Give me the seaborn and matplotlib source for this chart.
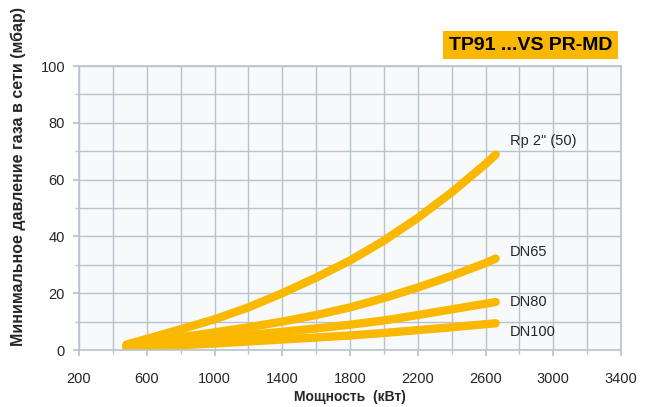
import numpy as np
import pandas as pd
import matplotlib
matplotlib.use("Agg")
import matplotlib.pyplot as plt
import seaborn as sns
from matplotlib.ticker import MultipleLocator

# values
power_kw = [480, 600, 800, 1000, 1200, 1400, 1600, 1800, 2000, 2200, 2400, 2600, 2660]
rp2_50 = [1.9, 3.9, 7.3, 10.8, 15.0, 20.0, 25.5, 31.5, 38.5, 46.5, 55.5, 65.5, 68.8]
dn65 = [1.5, 2.9, 4.5, 6.2, 8.0, 10.0, 12.3, 15.0, 18.3, 22.0, 26.1, 30.6, 32.2]
dn80 = [1.3, 2.2, 3.2, 4.2, 5.3, 6.4, 7.6, 8.9, 10.4, 12.3, 14.3, 16.3, 16.9]
dn100 = [0.9, 1.2, 1.7, 2.3, 3.0, 3.7, 4.4, 5.1, 6.0, 7.0, 8.0, 9.1, 9.4]

series_names = ['Rp 2" (50)', "DN65", "DN80", "DN100"]
series_values = [rp2_50, dn65, dn80, dn100]

x_ticks = [200, 600, 1000, 1400, 1800, 2200, 2600, 3000, 3400]
y_ticks = [0, 20, 40, 60, 80, 100]

title_text = "TP91 ...VS PR-MD"
x_label = "Мощность  (кВт)"
y_label = "Минимальное давление газа в сети (мбар)"

line_color = "#FBB800"
grid_color = "#B9C3CB"

sns.set_theme(style="whitegrid")
plt.rcParams["font.family"] = ["Liberation Sans", "DejaVu Sans"]

df = pd.DataFrame({
    "power": np.tile(power_kw, len(series_names)),
    "pressure": np.concatenate(series_values),
    "series": np.repeat(series_names, len(power_kw)),
})

fig = plt.figure(figsize=(6.55, 4.07), dpi=100)
ax = fig.add_axes([79 / 655, 1 - 350 / 407, 542 / 655, 284 / 407])
ax.set_facecolor("#F7F9FB")

sns.lineplot(data=df, x="power", y="pressure", hue="series",
             palette=[line_color] * len(series_names), linewidth=6,
             legend=False, ax=ax, solid_capstyle="round", sort=False)

ax.set_xlim(200, 3400)
ax.set_ylim(0, 100)
ax.set_xticks(x_ticks)
ax.set_yticks(y_ticks)
ax.xaxis.set_minor_locator(MultipleLocator(200))
ax.yaxis.set_minor_locator(MultipleLocator(10))
ax.grid(which="both", color=grid_color, linewidth=1.0)
ax.tick_params(axis="both", which="both", length=4, color=grid_color,
               labelsize=10.5, bottom=True, left=True)
ax.tick_params(axis="x", which="major", pad=12)
ax.tick_params(axis="y", which="major", pad=6)
ax.tick_params(axis="both", which="minor", length=3)
for side, spine in ax.spines.items():
    spine.set_color(grid_color)
    spine.set_linewidth(1.2)

ax.set_xlabel(x_label, fontsize=10, fontweight="bold", labelpad=3)
ax.set_ylabel(y_label, fontsize=11.5, fontweight="bold")
ax.yaxis.set_label_coords(-0.097, 0.61)

# labels next to the end of each curve
offsets = [(10, 10), (10, 5), (10, 0), (10, -6)]
for name, vals, off in zip(series_names, series_values, offsets):
    ax.annotate(name, xy=(power_kw[-1], vals[-1]), xytext=off,
                textcoords="offset points", fontsize=10.5, va="center", ha="left")

fig.text(612 / 655, 1 - 45 / 407, title_text, ha="right", va="center",
         fontsize=14, fontweight="bold", color="black",
         bbox=dict(boxstyle="square,pad=0.3", facecolor="#F9B700", edgecolor="none"))

fig.savefig("out.png", dpi=100)
